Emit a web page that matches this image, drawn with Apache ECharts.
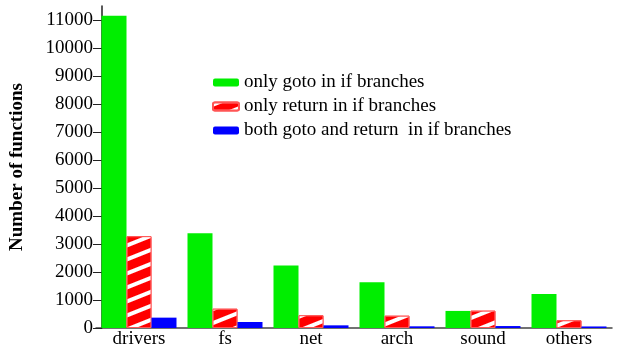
<!DOCTYPE html>
<html>
<head>
<meta charset="utf-8">
<script src="https://cdn.jsdelivr.net/npm/echarts@6/dist/echarts.min.js"></script>
<style>
  html, body { margin: 0; padding: 0; background: #fff; }
  #echarts-bar-chart { width: 627px; height: 346px; }
</style>
</head>
<body>
<div id="echarts-bar-chart"></div>
<script>
var categories = ['drivers', 'fs', 'net', 'arch', 'sound', 'others'];
var seriesNames = ['only goto in if branches', 'only return in if branches', 'both goto and return  in if branches'];
var gotoOnly = [11150, 3380, 2230, 1635, 610, 1215];
var returnOnly = [3280, 690, 455, 440, 620, 275];
var bothGotoReturn = [370, 215, 95, 60, 70, 55];
var yTicks = [0, 1000, 2000, 3000, 4000, 5000, 6000, 7000, 8000, 9000, 10000, 11000];

var fontName = '"Liberation Serif", "DejaVu Serif", serif';

var barChart = echarts.init(document.getElementById('echarts-bar-chart'));
var option = {
    animation: false,
    textStyle: { fontFamily: fontName, color: '#000' },
    legend: {
        orient: 'vertical',
        left: 212,
        top: 73,
        padding: 0,
        itemWidth: 26,
        itemHeight: 8,
        itemGap: 5,
        textStyle: { fontFamily: fontName, fontSize: 19, color: '#000' },
        data: seriesNames
    },
    grid: { left: 96, right: 15, top: 6, bottom: 18, outerBoundsMode: 'none' },
    xAxis: {
        type: 'category',
        data: categories,
        axisLine: { lineStyle: { color: '#444', width: 1.5 } },
        axisTick: { show: false },
        axisLabel: { fontFamily: fontName, fontSize: 19, color: '#000', margin: 2 }
    },
    yAxis: {
        type: 'value',
        min: 0,
        max: 11500,
        interval: 500,
        offset: -6,
        name: 'Number of functions',
        nameLocation: 'middle',
        nameGap: 75,
        nameTextStyle: { fontFamily: fontName, fontSize: 19, fontWeight: 'bold', color: '#000' },
        splitLine: { show: false },
        axisLine: { show: true, lineStyle: { color: '#222', width: 1.5 } },
        axisTick: { show: true, length: 9, customValues: yTicks, lineStyle: { color: '#222' } },
        axisLabel: {
            fontFamily: fontName, fontSize: 19, color: '#000', margin: 9,
            customValues: yTicks,
            formatter: function (v) { return String(v); }
        }
    },
    series: [
        {
            name: seriesNames[0],
            type: 'bar',
            barWidth: 25,
            barGap: '0%',
            itemStyle: { color: '#00ee00' },
            data: gotoOnly
        },
        {
            name: seriesNames[1],
            type: 'bar',
            barWidth: 25,
            barGap: '0%',
            itemStyle: {
                color: '#ff0000',
                borderColor: '#ff5555',
                borderWidth: 1,
                decal: {
                    symbol: 'rect',
                    color: '#ffffff',
                    dashArrayX: [1, 0],
                    dashArrayY: [4, 9],
                    rotation: -0.38
                }
            },
            data: returnOnly
        },
        {
            name: seriesNames[2],
            type: 'bar',
            barWidth: 25,
            barGap: '0%',
            itemStyle: { color: '#0000ff' },
            data: bothGotoReturn
        }
    ]
};
barChart.setOption(option);
</script>
</body>
</html>
